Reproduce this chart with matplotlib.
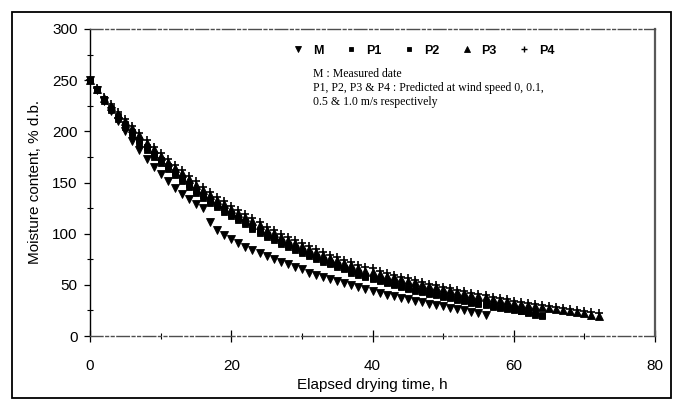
import numpy as np
import matplotlib
matplotlib.use("Agg")
import matplotlib.pyplot as plt
from matplotlib.lines import Line2D
from matplotlib.patches import Rectangle

# ── data (moisture content, % d.b.) ─────────────────────────────────────────
hours_m = np.arange(0, 57)   # measured, 0..56 h
hours_p12 = np.arange(0, 65)  # P1, P2, 0..64 h
hours_p34 = np.arange(0, 73)  # P3, P4, 0..72 h

moist_m = [250, 240, 230, 220, 210, 200, 191, 182, 173, 165, 158, 151, 145, 139,
           134, 129, 125, 111, 104, 99, 95, 91, 87, 84, 81, 78, 75, 72, 70, 67,
           65, 62, 60, 58, 56, 54, 52, 50, 48, 46, 44, 42, 40, 39, 37, 36, 34,
           33, 31, 30, 29, 27, 26, 25, 23, 22, 21]

moist_p1 = [250, 240, 230, 221, 212, 204, 196, 189, 182, 175, 169, 163, 157, 151,
            146, 140, 135, 130, 126, 121, 117, 113, 109, 105, 101, 97, 94, 90, 87,
            84, 81, 78, 75, 72, 70, 67, 65, 62, 60, 58, 56, 54, 52, 50, 48, 46,
            44, 43, 41, 40, 38, 37, 35, 34, 32, 31, 30, 28, 27, 26, 25, 24, 22,
            21, 20]

moist_p2 = [250, 241, 232, 223, 215, 207, 199, 192, 185, 178, 172, 166, 160, 154,
            149, 143, 138, 133, 128, 124, 119, 115, 111, 107, 103, 99, 96, 92, 89,
            86, 83, 80, 77, 74, 71, 69, 66, 64, 62, 59, 57, 55, 53, 51, 49, 47,
            46, 44, 42, 41, 39, 38, 36, 35, 33, 32, 31, 29, 28, 27, 26, 24, 23,
            22, 21]

moist_p3 = [250, 241, 233, 225, 217, 210, 203, 196, 189, 183, 176, 170, 164, 159,
            153, 148, 143, 138, 133, 129, 124, 120, 116, 112, 108, 104, 101, 97,
            94, 91, 88, 85, 82, 79, 76, 74, 71, 69, 66, 64, 63, 61, 59, 58, 56,
            54, 53, 51, 49, 48, 46, 45, 43, 42, 40, 39, 38, 36, 35, 34, 32, 31,
            30, 29, 28, 27, 26, 25, 24, 23, 22, 21, 20]

moist_p4 = [250, 242, 234, 227, 219, 212, 205, 198, 192, 185, 179, 173, 167, 162,
            156, 151, 146, 141, 136, 132, 127, 123, 119, 115, 111, 107, 104, 100,
            97, 94, 91, 88, 85, 82, 79, 77, 74, 72, 69, 67, 66, 64, 62, 60, 58,
            57, 55, 53, 51, 50, 48, 47, 45, 44, 42, 41, 40, 38, 37, 36, 34, 33,
            32, 31, 30, 29, 28, 27, 26, 25, 24, 23, 22]

series = [
    ("M", hours_m, moist_m, "v", 6.2),
    ("P1", hours_p12, moist_p1, "s", 4.4),
    ("P2", hours_p12, moist_p2, "s", 3.8),
    ("P3", hours_p34, moist_p3, "^", 5.6),
    ("P4", hours_p34, moist_p4, "+", 6.0),
]

note_lines = ["M : Measured date",
              "P1, P2, P3 & P4 : Predicted at wind speed 0, 0.1,",
              "0.5 & 1.0 m/s respectively"]

# ── figure ───────────────────────────────────────────────────────────────────
plt.rcParams["font.family"] = ["Liberation Sans", "DejaVu Sans"]

fig = plt.figure(figsize=(6.75, 4.0), dpi=100)
ax = fig.add_axes([90 / 675, 64 / 400, 565 / 675, 307 / 400])

# outer frame of the scanned figure
fig.patches.append(Rectangle((12 / 675, 2 / 400), 659 / 675, 386 / 400,
                             transform=fig.transFigure, fill=False,
                             edgecolor="black", linewidth=1.3))

for name, t, v, mk, ms in series:
    ax.plot(t, v, linestyle="none", marker=mk, markersize=ms, color="black",
            markeredgewidth=1.2 if mk == "+" else 0.6, clip_on=False)

ax.set_xlim(0, 80)
ax.set_ylim(0, 300)
ax.set_xticks([0, 20, 40, 60, 80])
ax.set_xticks([10, 30, 50, 70], minor=True)
ax.set_yticks([0, 50, 100, 150, 200, 250, 300])
ax.set_yticks(np.arange(25, 300, 50), minor=True)

ax.tick_params(axis="x", which="major", direction="inout", length=9,
               width=0.9, pad=12, labelsize=11)
ax.tick_params(axis="x", which="minor", direction="inout", length=5, width=0.8)
ax.tick_params(axis="y", which="major", direction="out", length=4,
               width=0.9, pad=5, labelsize=11)
ax.tick_params(axis="y", which="minor", direction="inout", length=4, width=0.8)

ax.spines["left"].set_linewidth(1.0)
ax.spines["right"].set_linewidth(1.6)
ax.spines["right"].set_color("0.35")
for side in ("top", "bottom"):
    ax.spines[side].set_linewidth(1.0)
    ax.spines[side].set_color("0.3")
    ax.spines[side].set_linestyle((0, (9, 2, 2, 2, 2, 2)))

ax.set_xlabel("Elapsed drying time, h", fontsize=11, labelpad=4)
ax.set_ylabel("Moisture content, % d.b.", fontsize=11, labelpad=7)

handles = [Line2D([], [], linestyle="none", marker=mk, markersize=ms * 0.8,
                  color="black", markeredgewidth=1.0 if mk == "+" else 0.6)
           for _, _, _, mk, ms in series]
labels = [s[0] for s in series]
leg = ax.legend(handles, labels, ncol=5, frameon=False, loc="upper left",
                bbox_to_anchor=(0.337, 0.985), handlelength=1.0,
                handletextpad=0.7, columnspacing=1.7,
                prop={"weight": "bold", "size": 9})

for i, line in enumerate(note_lines):
    ax.text(0.395, 0.855 - i * 0.046, line, transform=ax.transAxes,
            family=["Liberation Serif", "DejaVu Serif"], fontsize=8.5,
            va="center", ha="left")

fig.savefig("out.png", dpi=100)
